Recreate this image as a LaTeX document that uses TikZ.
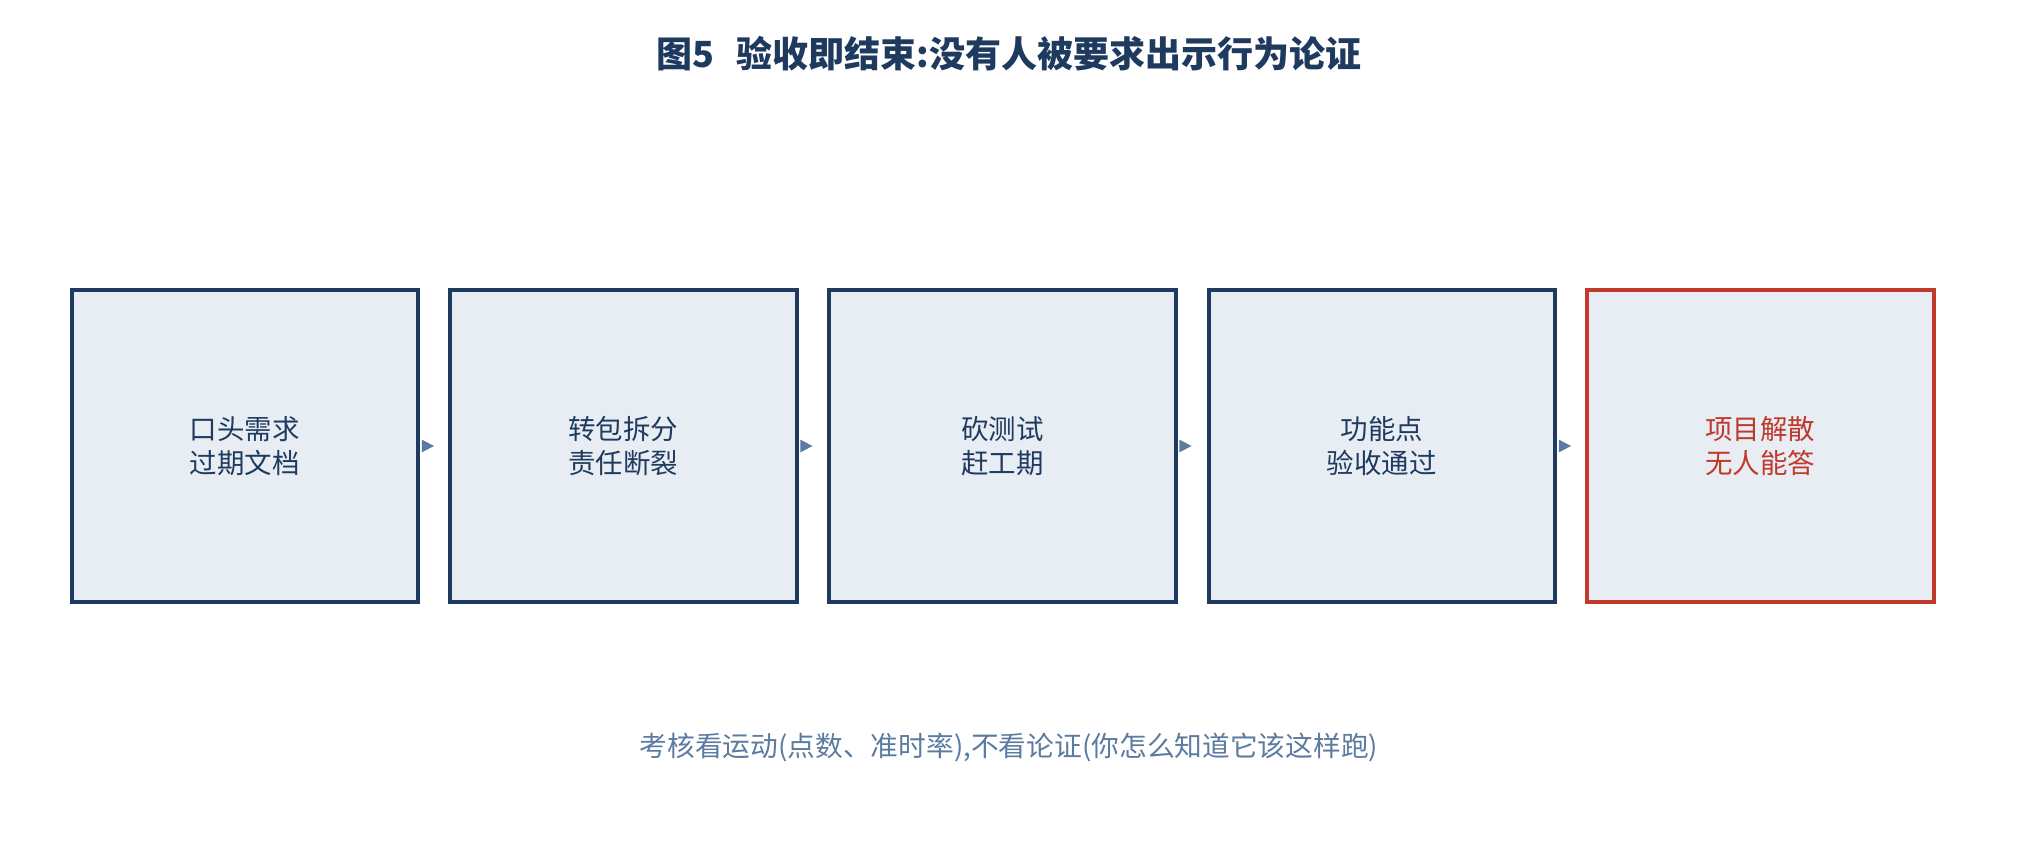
\documentclass[tikz,border=0pt]{standalone}
\usepackage{fontspec}
\setmainfont{Noto Sans CJK SC}
\newfontfamily\cjk{Noto Sans CJK SC}
\usetikzlibrary{arrows.meta}
\definecolor{navy}{HTML}{1F3A5F}
\definecolor{boxfill}{HTML}{E8EDF4}
\definecolor{redc}{HTML}{C0392B}
\definecolor{soft}{HTML}{5B7BA0}
\begin{document}
\begin{tikzpicture}[x=0.375pt,y=-0.375pt,
  box/.style={draw=navy,fill=boxfill,line width=1.5pt,minimum width=130pt,minimum height=117pt,inner sep=0pt,align=center,text=navy,font=\fontsize{10.3}{12.6}\selectfont,anchor=north west}]
\useasboundingbox (0,0) rectangle (2019,859);
\node[font=\bfseries\fontsize{13.5}{16}\selectfont,text=navy] (title) at (1009,54) {图5\hspace{0.6em}验收即结束:没有人被要求出示行为论证};
\node[box] (b1) at (69.5,288) {口头需求\\过期文档};
\node[box] (b2) at (448,288) {转包拆分\\责任断裂};
\node[box] (b3) at (827,288) {砍测试\\赶工期};
\node[box] (b4) at (1206.5,288) {功能点\\验收通过};
\node[box,draw=redc,text=redc] (b5) at (1585,288) {项目解散\\无人能答};
\foreach \a/\b in {b1/b2,b2/b3,b3/b4,b4/b5}{
  \fill[soft] ([xshift=0.6pt,yshift=2.4pt]\a.east) -- ([xshift=5.2pt]\a.east) -- ([xshift=0.6pt,yshift=-2.4pt]\a.east) -- cycle;
}
\node[text=soft,font=\fontsize{10.4}{12}\selectfont] (foot) at (1009,747) {考核看运动(点数、准时率),不看论证(你怎么知道它该这样跑)};
\end{tikzpicture}
\end{document}
